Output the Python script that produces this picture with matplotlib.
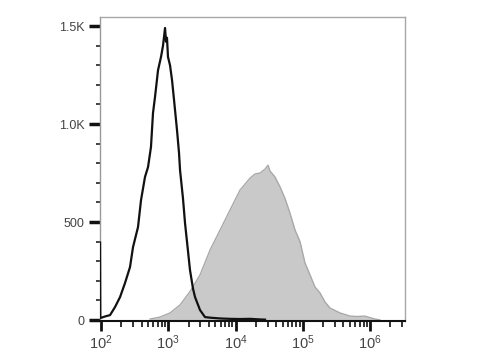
import matplotlib
matplotlib.use("Agg")
import matplotlib.pyplot as plt
import numpy as np
from matplotlib.ticker import FixedLocator, NullFormatter, FuncFormatter

plt.rcParams['font.family'] = ['Liberation Sans', 'DejaVu Sans']
plt.rcParams['mathtext.fontset'] = 'custom'
plt.rcParams['mathtext.rm'] = 'Liberation Sans'
plt.rcParams['mathtext.it'] = 'Liberation Sans'
plt.rcParams['mathtext.default'] = 'regular'

# Control (black outline) histogram: log10 intensity and counts
ctrl_log = [1.986, 1.99, 2.059, 2.134, 2.208, 2.283, 2.357, 2.431, 2.476, 2.550,
            2.595, 2.654, 2.699, 2.743, 2.773, 2.803, 2.848, 2.892, 2.922, 2.952,
            2.967, 2.981, 2.996, 3.026, 3.056, 3.086, 3.130, 3.160, 3.175, 3.219,
            3.249, 3.294, 3.323, 3.368, 3.398, 3.472, 3.546, 3.621, 3.770, 3.918,
            4.067, 4.216, 4.364, 4.439]
ctrl_cnt = [395, 10, 18, 25, 66, 117, 189, 270, 372, 474,
            612, 730, 780, 883, 1056, 1138, 1275, 1342, 1400, 1490,
            1420, 1440, 1342, 1300, 1224, 1122, 969, 852, 765, 620,
            495, 350, 255, 160, 117, 51, 15, 12, 8, 6,
            5, 6, 3, 2]

# Stained (gray filled) histogram
stain_log = [2.729, 2.877, 3.026, 3.175, 3.323, 3.472, 3.621, 3.770, 3.918, 4.067,
             4.216, 4.290, 4.364, 4.439, 4.483, 4.513, 4.587, 4.662, 4.736, 4.810,
             4.885, 4.959, 5.033, 5.108, 5.182, 5.257, 5.331, 5.405, 5.554, 5.703,
             5.807, 5.926, 6.000, 6.074, 6.149]
stain_cnt = [5, 15, 36, 77, 145, 230, 357, 459, 561, 663,
             724, 745, 750, 770, 790, 760, 730, 679, 620, 545,
             459, 400, 291, 230, 168, 138, 92, 61, 36, 20,
             18, 20, 12, 5, 0]

y_ticks = [0, 500, 1000, 1500]
y_labels = ['0', '500', '1.0K', '1.5K']
x_major_exp = [2, 3, 4, 5, 6]

fig = plt.figure(figsize=(4.8, 3.6), dpi=100)
ax = fig.add_axes([100/480, 39/360, 305/480, 304/360])

sx = 10 ** np.array(stain_log)
cx = 10 ** np.array(ctrl_log)
ax.fill_between(sx, 0, stain_cnt, color='#c9c9c9', lw=0, zorder=1)
ax.plot(sx, stain_cnt, color='#a9a9a9', lw=1.0, zorder=2)
ax.plot(cx, ctrl_cnt, color='#111111', lw=1.6, zorder=3)

ax.set_xscale('log')
ax.set_xlim(10 ** 1.985, 10 ** 6.52)
ax.set_ylim(-5, 1546)

ax.xaxis.set_major_locator(FixedLocator([10.0 ** e for e in x_major_exp]))
ax.xaxis.set_major_formatter(FuncFormatter(lambda v, p: r'$10^{%d}$' % round(np.log10(v))))
minors = [m * 10.0 ** e for e in range(1, 7) for m in range(2, 10)]
ax.xaxis.set_minor_locator(FixedLocator(minors))
ax.xaxis.set_minor_formatter(NullFormatter())

ax.set_yticks(y_ticks)
ax.set_yticklabels(y_labels)
ax.yaxis.set_minor_locator(FixedLocator(np.arange(0, 1501, 100)))

ax.tick_params(axis='x', which='major', direction='out', length=7, width=2, colors='#111111',
               labelcolor='#444444', labelsize=10.5, pad=2)
ax.tick_params(axis='x', which='minor', direction='out', length=4, width=1.2, colors='#111111')
ax.tick_params(axis='y', which='major', direction='out', length=8, width=2.5, colors='#111111',
               labelcolor='#444444', labelsize=9, pad=3)
ax.tick_params(axis='y', which='minor', direction='out', length=3, width=1.2, colors='#222222')

for s in ['top', 'right']:
    ax.spines[s].set_color('#a8a8a8')
    ax.spines[s].set_linewidth(1.0)
ax.spines['left'].set_color('#999999')
ax.spines['left'].set_linewidth(1.0)
ax.spines['bottom'].set_color('#111111')
ax.spines['bottom'].set_linewidth(1.5)

fig.savefig('out.png', dpi=100)
